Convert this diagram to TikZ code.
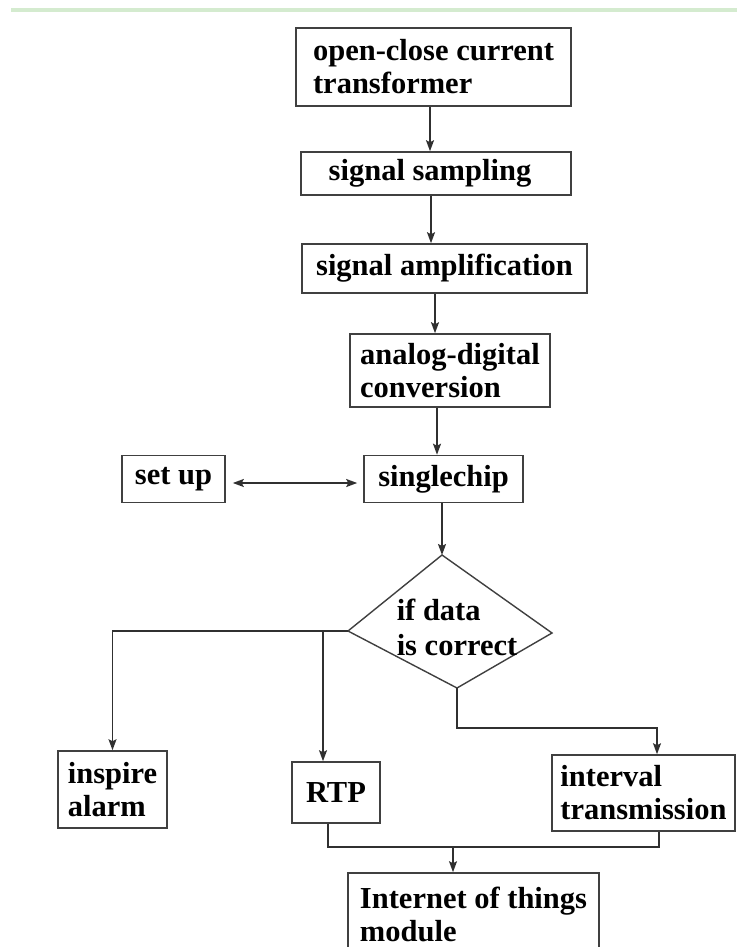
\documentclass[tikz,border=0pt]{standalone}
\usepackage{fontspec}
\setmainfont{Liberation Serif}
\usetikzlibrary{arrows.meta}
\definecolor{topgreen}{HTML}{D4EBCF}
\definecolor{boxline}{HTML}{404040}
\definecolor{arrline}{HTML}{303030}
\begin{document}
\begin{tikzpicture}[x=1pt,y=-1pt,
  box/.style={draw=boxline, line width=1.6pt, fill=white, align=left, inner sep=0pt,
    font=\bfseries\fontsize{30.5}{33}\selectfont},
  txt/.style={align=left, inner sep=0pt, font=\bfseries\fontsize{30.5}{35}\selectfont},
  arr/.style={draw=arrline, line width=1.5pt, -{Stealth[length=11pt,width=8pt,inset=2pt]}},
  arrtwo/.style={draw=arrline, line width=1.5pt, {Stealth[length=11pt,width=8pt,inset=2pt]}-{Stealth[length=11pt,width=8pt,inset=2pt]}},
  ln/.style={draw=arrline, line width=1.5pt},
  dia/.style={draw=boxline, line width=1.4pt, fill=white}]
\useasboundingbox (0,0) rectangle (737,947);
\clip (0,0) rectangle (737,947);
\fill[topgreen] (11,8) rectangle (737,12.5);

% boxes
\node[box, minimum width=275, minimum height=78] (b1) at (433.5,67) {open-close current\\transformer};
\node[box, minimum width=270, minimum height=43] (b2) at (436,173.5) {signal sampling\hspace*{12pt}};
\node[box, minimum width=285, minimum height=49] (b3) at (444.5,268.5) {signal amplification};
\node[box, minimum width=200, minimum height=73] (b4) at (450,370.5) {analog-digital\\conversion};
\node[box, minimum width=103, minimum height=47] (setup) at (173.5,479) {set up};
\node[box, minimum width=159, minimum height=47] (chip) at (443.5,479) {singlechip};
\node[box, minimum width=109, minimum height=77] (alarm) at (112.5,789.5) {inspire\\alarm};
\node[box, minimum width=88, minimum height=61] (rtp) at (336,792.5) {RTP};
\node[box, minimum width=183, minimum height=76] (itv) at (643.5,793) {interval\\transmission};
\node[box, minimum width=251, minimum height=82] (iot) at (473.5,914) {Internet of things\\module};

% decision diamond
\coordinate (dT) at (442,555);
\coordinate (dR) at (552,633);
\coordinate (dB) at (457,688);
\coordinate (dL) at (348,631);
\draw[dia] (dT) -- (dR) -- (dB) -- (dL) -- cycle;
\node[txt] (dec) at (457,627) {if data\\is correct};

% helper coordinates
\coordinate (x430) at (430,0);
\coordinate (x431) at (431,0);
\coordinate (x435) at (435,0);
\coordinate (x437) at (437,0);
\coordinate (x323) at (323,0);
\coordinate (x328) at (328,0);
\coordinate (y483) at (0,483);
\coordinate (j1) at (657,728);
\coordinate (j2) at (659,847);
\coordinate (j3) at (453,847);

% connectors
\draw[arr] (b1.south -| x430) -- (b2.north -| x430);
\draw[arr] (b2.south -| x431) -- (b3.north -| x431);
\draw[arr] (b3.south -| x435) -- (b4.north -| x435);
\draw[arr] (b4.south -| x437) -- (chip.north -| x437);
\draw[arrtwo, shorten <=7pt, shorten >=6pt] (setup.east |- y483) -- (chip.west |- y483);
\draw[arr] (chip.south -| dT) -- (dT);
\draw[arr] (dL) -| (alarm.north);
\draw[arr] (dL -| x323) -- (rtp.north -| x323);
\draw[arr] (dB) |- (j1) -- (itv.north -| j1);
\draw[ln] (rtp.south -| x328) |- (j2) -- (itv.south -| j2);
\draw[arr] (j3) -- (iot.north -| j3);
\end{tikzpicture}
\end{document}
